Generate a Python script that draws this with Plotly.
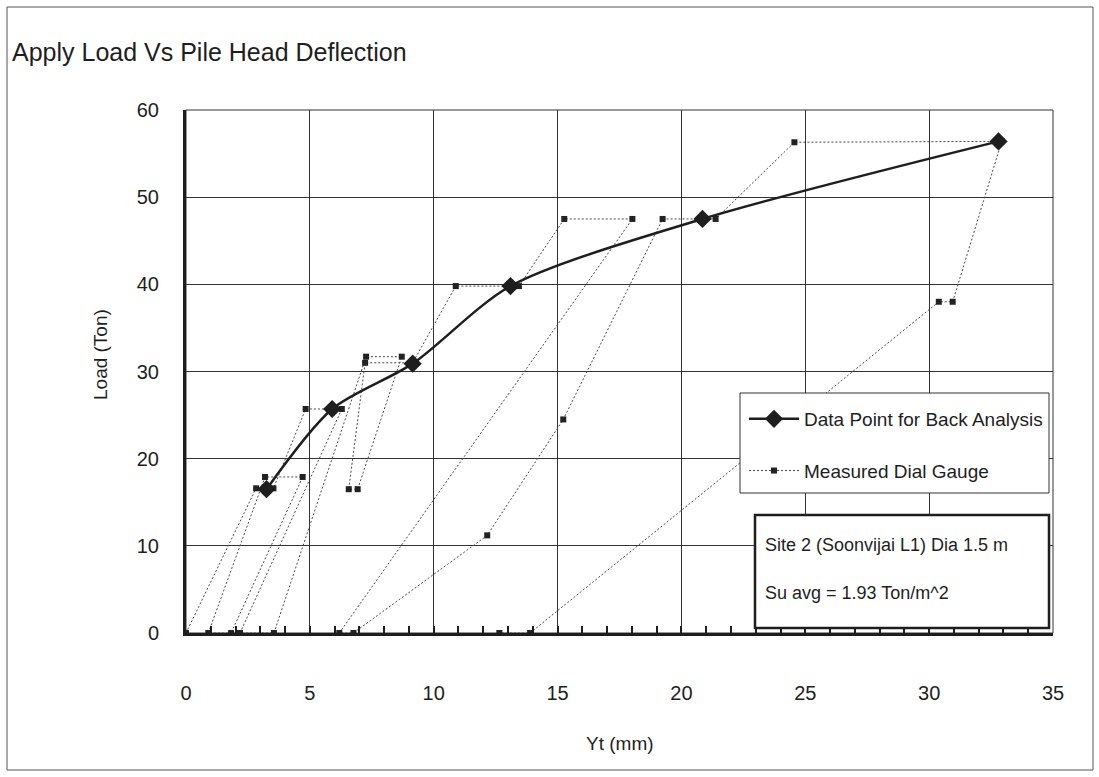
import plotly.graph_objects as go

# ---------------- data ----------------
back_x = [3.25, 5.9, 9.15, 13.1, 20.85, 32.8]
back_y = [16.5, 25.7, 30.9, 39.8, 47.5, 56.4]

meas_x = [0.0, 2.83, 3.53, 4.83, 6.29, 2.18, 1.82, 4.71, 3.19, 0.9,
          3.55, 7.27, 8.71, 6.93, 6.57, 7.23, 9.15, 10.89, 13.44, 15.27,
          18.02, 6.19, 6.76, 12.16, 15.23, 19.24, 21.38, 24.56, 32.93, 30.95,
          30.39, 13.89, 12.65]
meas_y = [0.0, 16.6, 16.6, 25.7, 25.7, 0.0, 0.0, 17.9, 17.9, 0.0,
          0.0, 31.7, 31.7, 16.5, 16.5, 31.0, 31.0, 39.8, 39.8, 47.5,
          47.5, 0.0, 0.0, 11.2, 24.5, 47.5, 47.5, 56.3, 56.4, 38.0,
          38.0, 0.0, 0.0]

title_text = "Apply Load Vs Pile Head Deflection"
x_title = "Yt (mm)"
y_title = "Load (Ton)"
note_lines = ["Site 2 (Soonvijai L1) Dia 1.5 m", "Su avg = 1.93 Ton/m^2"]

# ---------------- layout geometry (pixels) ----------------
W, H = 1099, 777
L, R, T, B = 186, 1053, 110, 633
pw, ph = R - L, B - T

def px(xp):
    return (xp - L) / pw

def py(yp):
    return (B - yp) / ph

FONT = "Liberation Sans, Arial, Helvetica, sans-serif"
INK = "#1e1e1e"

fig = go.Figure()

fig.add_trace(go.Scatter(
    x=meas_x, y=meas_y, mode="lines+markers", name="Measured Dial Gauge",
    line=dict(color="#4a4a4a", width=1, dash="2px,2px"),
    marker=dict(symbol="square", size=6, color="#222222"),
    legendrank=2, legendgroup="m", cliponaxis=False,
))
fig.add_trace(go.Scatter(
    x=back_x, y=back_y, mode="lines+markers", name="Data Point for Back Analysis",
    line=dict(color=INK, width=2.5, shape="spline", smoothing=0.8),
    marker=dict(symbol="diamond", size=14, color=INK),
    legendrank=1, legendgroup="d",
))

fig.update_layout(
    width=W, height=H,
    margin=dict(l=L, r=W - R, t=T, b=H - B, pad=0),
    paper_bgcolor="white", plot_bgcolor="white",
    font=dict(family=FONT, color=INK, size=18),
    showlegend=True,
    legend=dict(
        x=px(744), y=py(400), xanchor="left", yanchor="top",
        bgcolor="rgba(0,0,0,0)", borderwidth=0,
        font=dict(size=19, family=FONT, color=INK),
        itemwidth=50, traceorder="grouped", tracegroupgap=24,
    ),
    xaxis=dict(
        range=[0, 35], tickvals=[0, 5, 10, 15, 20, 25, 30, 35],
        showgrid=True, gridcolor="#333333", gridwidth=1,
        showline=True, linecolor=INK, linewidth=3, mirror=False,
        ticks="inside", ticklen=7, tickwidth=2, tickcolor=INK,
        minor=dict(dtick=1, ticks="inside", ticklen=7, tickwidth=2, tickcolor=INK, showgrid=False),
        tickfont=dict(size=20, family=FONT, color=INK),
        ticklabelstandoff=40, zeroline=False, fixedrange=True,
    ),
    yaxis=dict(
        range=[0, 60], tickvals=[0, 10, 20, 30, 40, 50, 60],
        showgrid=True, gridcolor="#333333", gridwidth=1,
        showline=True, linecolor=INK, linewidth=3, mirror=False,
        ticks="", tickfont=dict(size=20, family=FONT, color=INK),
        ticklabelstandoff=20, zeroline=False, fixedrange=True,
    ),
)

# plot-area top/right border (thin)
fig.add_shape(type="rect", xref="paper", yref="paper", x0=0, y0=0, x1=1, y1=1,
              line=dict(color="#333333", width=1), layer="below")
# outer chart border
fig.add_shape(type="rect", xref="paper", yref="paper",
              x0=px(7), y0=py(770), x1=px(1093), y1=py(7),
              line=dict(color="#555555", width=1))
# legend frame
fig.add_shape(type="rect", xref="paper", yref="paper",
              x0=px(740), y0=py(493), x1=px(1049), y1=py(393),
              line=dict(color="#333333", width=1), fillcolor="white", layer="above")

# title and axis titles
fig.add_annotation(text=title_text, xref="paper", yref="paper", x=px(10), y=py(52),
                   xanchor="left", yanchor="middle", showarrow=False,
                   font=dict(size=25, family=FONT, color=INK))
fig.add_annotation(text=x_title, xref="paper", yref="paper", x=px(620), y=py(743),
                   xanchor="center", yanchor="middle", showarrow=False,
                   font=dict(size=19, family=FONT, color=INK))
fig.add_annotation(text=y_title, xref="paper", yref="paper", x=px(100), y=py(355),
                   xanchor="center", yanchor="middle", showarrow=False, textangle=-90,
                   font=dict(size=19, family=FONT, color=INK))

# site note box
fig.add_shape(type="rect", xref="paper", yref="paper",
              x0=px(755), y0=py(628), x1=px(1049), y1=py(515),
              line=dict(color=INK, width=2.5), fillcolor="white", layer="above")
fig.add_annotation(text=note_lines[0], xref="paper", yref="paper", x=px(763), y=py(545),
                   xanchor="left", yanchor="middle", showarrow=False,
                   font=dict(size=18, family=FONT, color=INK))
fig.add_annotation(text=note_lines[1], xref="paper", yref="paper", x=px(763), y=py(593),
                   xanchor="left", yanchor="middle", showarrow=False,
                   font=dict(size=18, family=FONT, color=INK))

fig.write_html("out.html", config={"displayModeBar": False},
               post_script="document.body.style.margin='0px';")
